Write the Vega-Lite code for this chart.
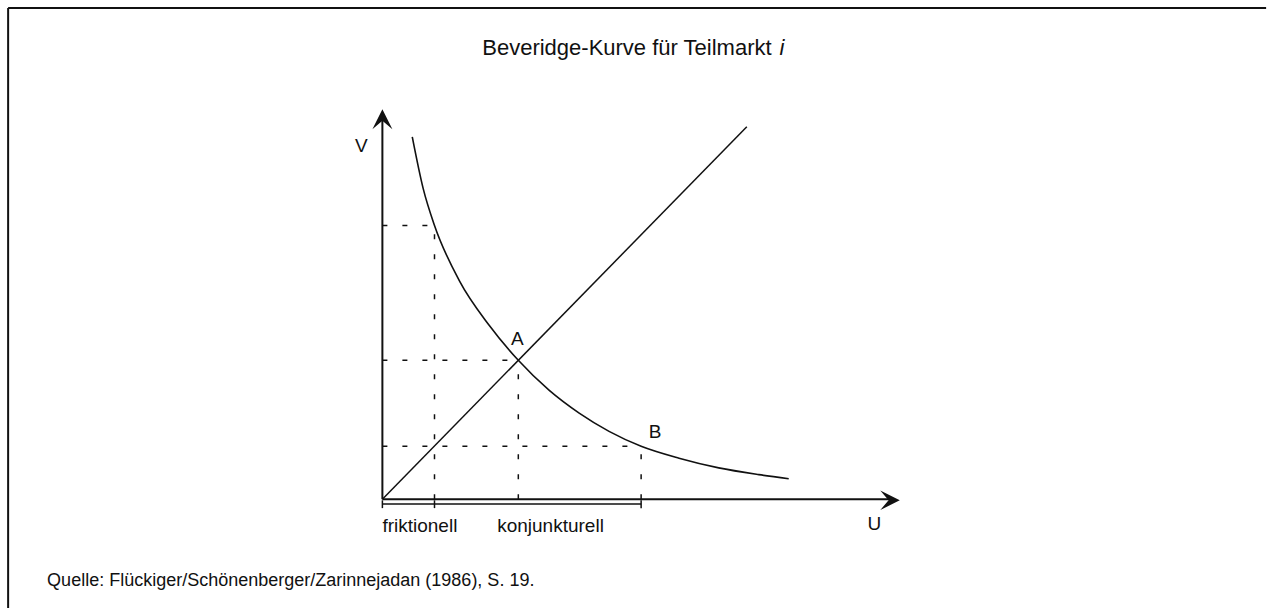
{
  "$schema": "https://vega.github.io/schema/vega-lite/v6.json",
  "width": 1268,
  "height": 609,
  "autosize": {"type": "fit", "contains": "padding"},
  "padding": 0,
  "background": "white",
  "config": {"view": {"stroke": null}},
  "datasets": {
    "curve": [
      {"u": 0.82, "v": 9.73},
      {"u": 1.12, "v": 8.34},
      {"u": 1.43, "v": 7.35},
      {"u": 2.11, "v": 5.87},
      {"u": 2.93, "v": 4.67},
      {"u": 3.73, "v": 3.73},
      {"u": 4.58, "v": 2.92},
      {"u": 5.40, "v": 2.31},
      {"u": 6.22, "v": 1.82},
      {"u": 7.10, "v": 1.42},
      {"u": 8.14, "v": 1.10},
      {"u": 9.23, "v": 0.84},
      {"u": 10.33, "v": 0.66},
      {"u": 11.15, "v": 0.55}
    ],
    "segments": [
      {"kind": "frame", "u": -10.27, "v": 13.19, "u2": 24.25, "v2": 13.19},
      {"kind": "frame", "u": -10.27, "v": 13.19, "u2": -10.27, "v2": -2.92},
      {"kind": "axis", "u": 0, "v": 0, "u2": 0, "v2": 10.3},
      {"kind": "axis", "u": 0, "v": 0, "u2": 13.9, "v2": 0},
      {"kind": "line", "u": 0, "v": 0, "u2": 10, "v2": 10},
      {"kind": "line", "u": 0, "v": -0.13, "u2": 7.1, "v2": -0.13},
      {"kind": "line", "u": 0, "v": -0.03, "u2": 0, "v2": -0.24},
      {"kind": "line", "u": 1.43, "v": -0.03, "u2": 1.43, "v2": -0.24},
      {"kind": "line", "u": 7.1, "v": -0.03, "u2": 7.1, "v2": -0.24}
    ],
    "guides": [
      {"u": 0, "v": 7.35, "u2": 1.43, "v2": 7.35},
      {"u": 1.43, "v": 0, "u2": 1.43, "v2": 7.35},
      {"u": 0, "v": 3.73, "u2": 3.73, "v2": 3.73},
      {"u": 3.73, "v": 0, "u2": 3.73, "v2": 3.73},
      {"u": 0, "v": 1.42, "u2": 7.1, "v2": 1.42},
      {"u": 7.1, "v": 0, "u2": 7.1, "v2": 1.42}
    ],
    "arrows": [
      {"dir": "up", "u": 0, "v": 10.2},
      {"dir": "right", "u": 13.93, "v": -0.03}
    ],
    "texts": [
      {"kind": "title", "u": 2.74, "v": 11.93, "text": "Beveridge-Kurve für Teilmarkt"},
      {"kind": "titleitalic", "u": 10.9, "v": 11.93, "text": "i"},
      {"kind": "labelleft", "u": 0, "v": -0.88, "text": "friktionell"},
      {"kind": "labelleft", "u": 3.15, "v": -0.88, "text": "konjunkturell"},
      {"kind": "letter", "u": 13.5, "v": -0.83, "text": "U"},
      {"kind": "letter", "u": -0.58, "v": 9.33, "text": "V"},
      {"kind": "letter", "u": 3.7, "v": 4.13, "text": "A"},
      {"kind": "letter", "u": 7.48, "v": 1.64, "text": "B"},
      {"kind": "source", "u": -9.2, "v": -2.33, "text": "Quelle: Flückiger/Schönenberger/Zarinnejadan (1986), S. 19."}
    ]
  },
  "encoding": {
    "x": {"field": "u", "type": "quantitative", "scale": {"domain": [-10.493, 24.247], "nice": false, "zero": false}, "axis": null},
    "y": {"field": "v", "type": "quantitative", "scale": {"domain": [-2.922, 13.405], "nice": false, "zero": false}, "axis": null}
  },
  "layer": [
    {
      "data": {"name": "segments"},
      "transform": [{"filter": "datum.kind === 'frame'"}],
      "mark": {"type": "rule", "color": "#111", "strokeWidth": 2},
      "encoding": {"x2": {"field": "u2"}, "y2": {"field": "v2"}}
    },
    {
      "data": {"name": "segments"},
      "transform": [{"filter": "datum.kind === 'axis'"}],
      "mark": {"type": "rule", "color": "#111", "strokeWidth": 2},
      "encoding": {"x2": {"field": "u2"}, "y2": {"field": "v2"}}
    },
    {
      "data": {"name": "segments"},
      "transform": [{"filter": "datum.kind === 'line'"}],
      "mark": {"type": "rule", "color": "#111", "strokeWidth": 1.5},
      "encoding": {"x2": {"field": "u2"}, "y2": {"field": "v2"}}
    },
    {
      "data": {"name": "guides"},
      "mark": {"type": "rule", "color": "#111", "strokeWidth": 1.5, "strokeDash": [5, 15]},
      "encoding": {"x2": {"field": "u2"}, "y2": {"field": "v2"}}
    },
    {
      "data": {"name": "curve"},
      "mark": {"type": "line", "color": "#111", "strokeWidth": 1.6, "interpolate": "monotone"},
      "encoding": {"order": {"field": "u", "type": "quantitative"}}
    },
    {
      "data": {"name": "arrows"},
      "transform": [{"filter": "datum.dir === 'up'"}],
      "mark": {"type": "point", "shape": "M0,-1L1,1L0,0.15L-1,1Z", "filled": true, "color": "#111", "size": 400, "opacity": 1}
    },
    {
      "data": {"name": "arrows"},
      "transform": [{"filter": "datum.dir === 'right'"}],
      "mark": {"type": "point", "shape": "M1,0L-1,-1L-0.15,0L-1,1Z", "filled": true, "color": "#111", "size": 380, "opacity": 1}
    },
    {
      "data": {"name": "texts"},
      "transform": [{"filter": "datum.kind === 'title'"}],
      "mark": {"type": "text", "font": "Liberation Sans", "fontSize": 22, "align": "left", "baseline": "alphabetic", "color": "#111"},
      "encoding": {"text": {"field": "text"}}
    },
    {
      "data": {"name": "texts"},
      "transform": [{"filter": "datum.kind === 'titleitalic'"}],
      "mark": {"type": "text", "font": "Liberation Sans", "fontSize": 22, "fontStyle": "italic", "align": "left", "baseline": "alphabetic", "color": "#111"},
      "encoding": {"text": {"field": "text"}}
    },
    {
      "data": {"name": "texts"},
      "transform": [{"filter": "datum.kind === 'labelleft'"}],
      "mark": {"type": "text", "font": "Liberation Sans", "fontSize": 19, "align": "left", "baseline": "alphabetic", "color": "#111"},
      "encoding": {"text": {"field": "text"}}
    },
    {
      "data": {"name": "texts"},
      "transform": [{"filter": "datum.kind === 'letter'"}],
      "mark": {"type": "text", "font": "Liberation Sans", "fontSize": 19, "align": "center", "baseline": "alphabetic", "color": "#111"},
      "encoding": {"text": {"field": "text"}}
    },
    {
      "data": {"name": "texts"},
      "transform": [{"filter": "datum.kind === 'source'"}],
      "mark": {"type": "text", "font": "Liberation Sans", "fontSize": 18, "align": "left", "baseline": "alphabetic", "color": "#111"},
      "encoding": {"text": {"field": "text"}}
    }
  ]
}
